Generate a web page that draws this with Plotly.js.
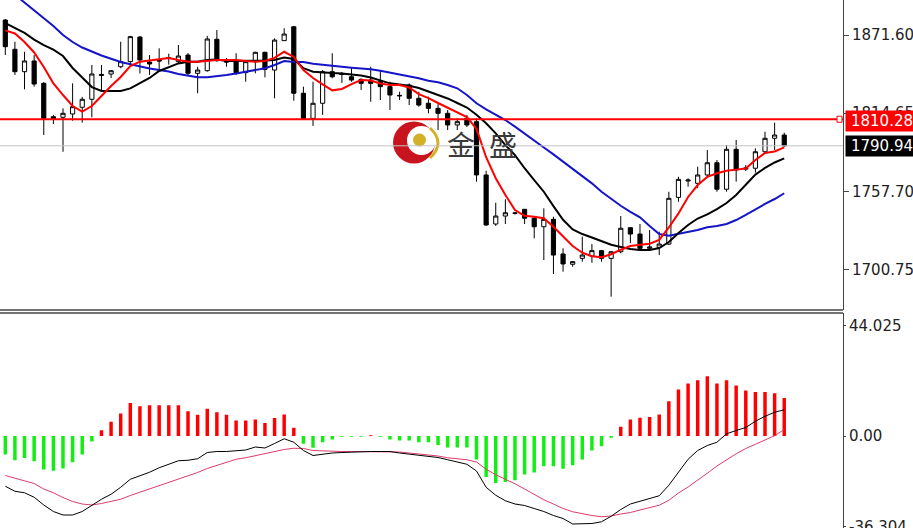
<!DOCTYPE html>
<html>
<head>
<meta charset="utf-8">
<script src="https://cdn.plot.ly/plotly-3.0.1.min.js"></script>
<style>html,body{margin:0;padding:0;background:#fff;}#chart{width:913px;height:528px;}</style>
</head>
<body>
<div id="chart"></div>
<script>
// ---- candle data (82 bars) ----
var openP = [1882.5,1861.2,1844.9,1852.7,1836.4,1812.1,1811.7,1814.1,1819.0,1824.8,
1842.1,1843.2,1848.5,1852.2,1870.1,1851.9,1853.4,1854.5,1852.2,1857.0,
1843.7,1845.6,1868.5,1852.7,1852.2,1844.2,1852.2,1859.0,1846.1,1867.5,
1877.6,1829.2,1810.9,1821.9,1844.9,1843.6,1841.2,1839.3,1838.8,1837.6,
1834.0,1827.2,1835.2,1825.5,1821.9,1818.2,1814.6,1806.1,1810.9,1808.5,
1769.7,1734.0,1739.8,1741.8,1744.7,1738.2,1732.0,1737.4,1712.2,1704.7,
1709.0,1710.7,1714.6,1709.0,1713.8,1731.3,1726.7,1716.3,1717.0,1719.4,
1753.4,1765.3,1763.6,1769.7,1778.6,1759.3,1788.4,1774.0,1774.6,1786.6,
1796.4,1798.8];
var highP = [1883.2,1866.7,1859.4,1857.0,1837.4,1813.4,1818.2,1836.4,1826.5,1849.8,
1849.8,1846.1,1866.7,1871.0,1870.9,1857.0,1861.9,1858.0,1864.3,1858.5,
1848.5,1870.9,1875.2,1854.9,1858.3,1853.4,1859.4,1859.4,1869.2,1876.5,
1878.2,1834.0,1837.6,1846.1,1858.3,1844.7,1847.4,1840.1,1848.5,1846.1,
1837.6,1830.3,1836.4,1830.3,1826.7,1821.9,1817.0,1811.0,1813.4,1810.9,
1772.8,1749.5,1752.0,1742.7,1744.9,1739.3,1745.4,1739.3,1716.3,1707.1,
1724.8,1719.4,1715.1,1714.3,1739.8,1731.8,1734.0,1729.6,1728.4,1757.5,
1768.4,1767.3,1775.7,1787.9,1780.6,1791.5,1795.2,1776.9,1789.1,1801.2,
1807.8,1800.5];
var lowP = [1857.0,1842.5,1832.1,1834.0,1798.8,1806.8,1786.6,1809.2,1807.8,1811.7,
1831.1,1840.3,1847.4,1849.8,1843.6,1842.5,1846.1,1850.0,1851.0,1842.5,
1829.2,1844.9,1852.2,1848.5,1842.5,1837.6,1843.7,1840.8,1825.5,1867.5,
1823.8,1809.7,1805.4,1813.4,1840.1,1836.7,1837.6,1831.6,1823.0,1824.3,
1817.0,1824.3,1820.6,1819.4,1814.6,1802.4,1802.4,1802.4,1804.6,1764.8,
1732.6,1732.6,1734.0,1740.9,1734.0,1723.6,1707.8,1697.6,1699.3,1702.9,
1706.6,1705.8,1706.6,1681.1,1712.7,1720.0,1715.1,1715.1,1711.4,1718.7,
1750.2,1761.2,1760.0,1768.0,1757.5,1757.5,1764.8,1772.6,1771.4,1785.5,
1787.9,1790.2];
var closeP = [1863.1,1844.9,1852.7,1835.9,1810.9,1810.5,1814.6,1819.4,1824.8,1843.2,
1842.9,1845.6,1852.2,1870.4,1853.4,1850.5,1852.7,1855.0,1856.3,1843.7,
1846.1,1868.7,1852.9,1851.9,1844.2,1852.2,1859.0,1846.6,1867.9,1872.3,
1829.2,1810.9,1821.9,1844.9,1841.2,1842.9,1838.8,1836.4,1836.4,1834.0,
1827.9,1827.6,1825.5,1820.6,1818.2,1814.6,1806.1,1808.5,1806.1,1769.7,
1733.3,1739.8,1742.2,1742.0,1738.2,1732.0,1737.4,1711.4,1704.9,1706.6,
1711.4,1714.6,1709.0,1713.8,1730.9,1726.7,1716.3,1717.3,1719.4,1752.7,
1766.5,1766.0,1769.7,1778.6,1759.3,1788.4,1773.3,1774.8,1786.6,1796.4,
1798.8,1790.94];

// ---- moving averages ----
var maFast = [1875.0,1872.7,1866.5,1858.9,1848.3,1836.4,1827.9,1819.9,1815.9,1819.9,
1827.2,1834.5,1841.0,1849.0,1852.2,1853.0,1854.1,1854.9,1853.4,1852.2,
1852.2,1853.0,1853.4,1853.4,1853.4,1852.7,1852.2,1852.7,1854.9,1859.4,
1855.6,1846.1,1840.3,1835.6,1831.3,1832.3,1835.9,1838.8,1838.5,1836.3,
1835.2,1835.2,1833.4,1828.6,1825.7,1822.1,1818.8,1815.5,1811.9,1803.3,
1782.6,1767.3,1755.1,1744.2,1740.0,1739.3,1738.2,1732.0,1725.0,1718.0,
1713.1,1710.5,1709.8,1712.0,1715.3,1718.0,1718.9,1719.7,1722.4,1731.5,
1741.7,1753.7,1762.4,1768.3,1770.9,1772.8,1773.6,1774.4,1780.6,1785.7,
1786.8,1789.8];
var maMid = [1880.3,1876.7,1873.1,1868.3,1864.3,1861.0,1856.3,1847.6,1841.0,1833.7,
1830.8,1830.8,1830.8,1832.7,1836.3,1840.3,1845.4,1848.3,1850.9,1852.2,
1852.2,1853.4,1853.8,1852.7,1852.7,1852.7,1852.7,1853.0,1853.4,1855.2,
1854.1,1847.4,1844.9,1844.2,1843.9,1843.6,1842.9,1842.1,1840.7,1838.5,
1836.4,1835.6,1834.7,1833.0,1830.5,1828.3,1825.4,1822.1,1818.8,1813.5,
1807.3,1800.0,1791.5,1784.2,1774.6,1766.0,1757.5,1747.0,1737.1,1730.0,
1726.7,1724.2,1721.3,1718.9,1717.3,1715.8,1715.1,1715.1,1716.5,1720.9,
1727.5,1733.3,1738.0,1741.0,1744.9,1749.3,1755.1,1762.4,1770.0,1774.8,
1778.8,1781.8];
var maSlow = [1906.6,1900.9,1895.4,1889.9,1884.4,1878.1,1871.6,1866.5,1862.5,1859.5,
1856.7,1854.3,1852.0,1850.3,1848.5,1847.2,1846.1,1845.0,1843.2,1841.8,
1840.8,1840.8,1841.5,1842.5,1843.6,1844.7,1846.1,1847.4,1849.8,1852.7,
1851.9,1851.9,1850.7,1849.8,1849.0,1848.5,1847.8,1847.4,1846.6,1845.6,
1844.2,1843.2,1841.8,1840.1,1838.3,1837.2,1835.2,1832.8,1827.9,1821.9,
1817.5,1813.9,1809.7,1804.9,1800.0,1795.2,1789.7,1784.7,1779.4,1774.0,
1768.9,1763.6,1757.5,1752.2,1747.3,1742.9,1738.9,1732.5,1726.7,1725.5,
1726.7,1728.2,1729.6,1731.6,1732.5,1734.0,1736.9,1740.6,1744.7,1748.6,
1752.2,1756.4];

// ---- MACD pane ----
var macdHist = [-7.4,-9.7,-8.8,-10.1,-13.4,-13.9,-13.0,-10.5,-7.4,-2.2,
2.3,5.7,9.0,13.2,11.9,12.3,12.3,12.3,12.3,9.9,
8.5,10.9,9.5,8.5,6.2,6.2,6.6,5.2,7.2,8.6,
3.3,-3.1,-4.7,-2.5,-1.4,-0.3,-0.3,-0.3,0.3,-0.3,
-1.4,-1.8,-1.8,-2.5,-2.5,-3.6,-4.6,-4.6,-4.6,-9.4,
-16.4,-18.8,-18.4,-17.7,-15.4,-14.6,-12.1,-12.1,-13.1,-11.7,
-9.4,-5.8,-4.1,-0.7,3.7,6.6,7.3,7.6,8.6,13.9,
18.6,21.0,22.3,23.9,21.0,22.3,20.2,18.2,17.6,17.6,
17.1,15.2];
var macdMain = [-20.1,-22.1,-22.7,-24.5,-27.6,-30.2,-31.6,-31.6,-30.2,-27.6,
-25.3,-23.3,-20.5,-17.3,-15.9,-14.5,-12.7,-11.3,-9.9,-9.7,
-9.1,-6.6,-6.2,-6.2,-6.0,-5.6,-4.4,-4.8,-3.0,-1.1,
-2.5,-5.8,-7.8,-7.2,-6.8,-6.6,-6.4,-6.3,-6.2,-6.2,
-6.2,-6.8,-7.2,-7.8,-8.2,-8.6,-9.5,-10.3,-11.3,-14.0,
-20.5,-23.7,-25.9,-27.2,-27.8,-29.0,-30.2,-31.8,-33.0,-35.2,
-35.2,-35.0,-34.3,-32.1,-29.4,-27.2,-26.1,-25.0,-23.9,-19.7,
-14.5,-9.3,-5.8,-3.8,-2.5,0.9,2.2,3.4,5.9,7.9,
9.5,10.5];
var macdSignal = [-15.8,-16.9,-18.0,-19.0,-21.2,-22.7,-24.6,-26.2,-27.2,-27.6,
-27.0,-26.2,-25.3,-23.8,-22.5,-21.0,-19.6,-18.4,-17.0,-16.0,
-14.6,-13.0,-11.7,-10.4,-9.3,-8.7,-7.8,-7.1,-6.2,-5.4,
-4.9,-5.0,-5.8,-6.0,-6.0,-6.2,-6.2,-6.2,-6.2,-6.3,
-6.4,-6.4,-6.8,-7.1,-7.6,-8.0,-8.7,-9.1,-9.5,-10.4,
-13.3,-15.5,-17.2,-19.1,-21.2,-23.4,-25.5,-27.2,-29.0,-30.3,
-31.2,-31.8,-32.3,-32.0,-31.2,-30.6,-29.6,-28.7,-27.7,-25.7,
-22.8,-20.4,-17.8,-14.9,-12.0,-9.4,-7.1,-5.0,-3.3,-1.5,
0.1,2.6];

// ---- axis labels / levels ----
var priceTicks = [1871.60, 1814.65, 1757.70, 1700.75];
var priceTickText = ['1871.60', '1814.65', '1757.70', '1700.75'];
var macdTicks = [44.025, 0, -36.304];
var macdTickText = ['44.025', '0.00', '-36.304'];
var levelPrice = 1810.28;
var levelText = '1810.28';
var bidPrice = 1790.94;
var bidText = '1790.94';
var brandText = ['金', '盛'];

var idx = openP.map(function(_, i){ return i; });
var histColors = macdHist.map(function(v){ return v >= 0 ? '#ff0000' : '#11ee11'; });

var W = 913, H = 528, PW = 843;
function px(x){ return x / PW; }
function py(y){ return (H - y) / H; }

var tickFont = {family: 'DejaVu Sans', size: 15, color: '#222'};

var traces = [
  {type: 'candlestick', x: idx, open: openP, high: highP, low: lowP, close: closeP,
   xaxis: 'x', yaxis: 'y', whiskerwidth: 0,
   increasing: {line: {color: '#000', width: 1}, fillcolor: '#ffffff'},
   decreasing: {line: {color: '#000', width: 1}, fillcolor: '#000000'},
   hoverinfo: 'skip'},
  {type: 'scatter', mode: 'lines', x: idx, y: maSlow, xaxis: 'x', yaxis: 'y',
   line: {color: '#1414c8', width: 2}, hoverinfo: 'skip'},
  {type: 'scatter', mode: 'lines', x: idx, y: maMid, xaxis: 'x', yaxis: 'y',
   line: {color: '#000000', width: 2}, hoverinfo: 'skip'},
  {type: 'scatter', mode: 'lines', x: idx, y: maFast, xaxis: 'x', yaxis: 'y',
   line: {color: '#ff0000', width: 2}, hoverinfo: 'skip'},
  {type: 'bar', x: idx, y: macdHist, xaxis: 'x2', yaxis: 'y2', width: 0.36,
   marker: {color: histColors, line: {width: 0}}, hoverinfo: 'skip'},
  {type: 'scatter', mode: 'lines', x: idx, y: macdSignal, xaxis: 'x2', yaxis: 'y2',
   line: {color: '#dc3c6a', width: 1}, hoverinfo: 'skip'},
  {type: 'scatter', mode: 'lines', x: idx, y: macdMain, xaxis: 'x2', yaxis: 'y2',
   line: {color: '#000000', width: 1}, hoverinfo: 'skip'}
];

var xRange = [-0.551, 87.11];
var layout = {
  width: W, height: H,
  margin: {l: 0, r: W - PW, t: 0, b: 0, pad: 0},
  paper_bgcolor: '#ffffff', plot_bgcolor: '#ffffff',
  showlegend: false, hovermode: false, boxgap: 0.38,
  xaxis: {domain: [0, 1], range: xRange, anchor: 'y', showticklabels: false, ticks: '',
          showgrid: false, zeroline: false, showline: false, rangeslider: {visible: false}, fixedrange: true},
  xaxis2: {domain: [0, 1], range: xRange, anchor: 'y2', showticklabels: false, ticks: '',
           showgrid: false, zeroline: false, showline: false, fixedrange: true},
  yaxis: {domain: [py(310), 1], range: [1671.4, 1897.08], side: 'right',
          tickmode: 'array', tickvals: priceTicks, ticktext: priceTickText,
          ticks: 'outside', ticklen: 5, tickcolor: '#444', tickwidth: 1,
          showline: true, linecolor: '#444', linewidth: 1,
          showgrid: false, zeroline: false, tickfont: tickFont, fixedrange: true},
  yaxis2: {domain: [0, py(313)], range: [-36.8, 49.2], side: 'right',
           tickmode: 'array', tickvals: macdTicks, ticktext: macdTickText,
           ticks: 'outside', ticklen: 2, tickcolor: '#444', tickwidth: 1,
           ticklabeloverflow: 'allow',
           showline: true, linecolor: '#444', linewidth: 1,
           showgrid: false, zeroline: false, tickfont: tickFont, fixedrange: true},
  shapes: [
    // logo (below traces)
    {type: 'circle', xref: 'paper', yref: 'paper', layer: 'below',
     x0: px(393), x1: px(435), y0: py(163.5), y1: py(121.5),
     fillcolor: '#c8141e', line: {width: 0}},
    {type: 'circle', xref: 'paper', yref: 'paper', layer: 'below',
     x0: px(407), x1: px(436), y0: py(155), y1: py(126),
     fillcolor: '#ffffff', line: {width: 0}},
    {type: 'circle', xref: 'paper', yref: 'paper', layer: 'below',
     x0: px(413), x1: px(426), y0: py(146.5), y1: py(133.5),
     fillcolor: '#d2b128', line: {width: 0}},
    {type: 'path', xref: 'paper', yref: 'paper', layer: 'below',
     path: 'M ' + px(430) + ',' + py(128) + ' Q ' + px(446) + ',' + py(143) + ' ' + px(430) + ',' + py(158),
     line: {color: '#d2b128', width: 3}},
    // bid line
    {type: 'line', xref: 'paper', yref: 'y', x0: 0, x1: 1, y0: bidPrice, y1: bidPrice,
     line: {color: '#c4c4c4', width: 1}},
    // level line
    {type: 'line', xref: 'paper', yref: 'y', x0: 0, x1: 1, y0: levelPrice, y1: levelPrice,
     line: {color: '#ff0000', width: 2}},
    {type: 'rect', xref: 'paper', yref: 'y', xsizemode: 'pixel', ysizemode: 'pixel',
     xanchor: 1, yanchor: levelPrice, x0: -6, x1: -1, y0: -3, y1: 3,
     fillcolor: '#ffffff', line: {color: '#ff0000', width: 1}},
    // pane separators
    {type: 'line', xref: 'paper', yref: 'paper', x0: 0, x1: 1, y0: py(310), y1: py(310),
     line: {color: '#444', width: 1.5}},
    {type: 'line', xref: 'paper', yref: 'paper', x0: 0, x1: 1, y0: py(313), y1: py(313),
     line: {color: '#444', width: 1.5}}
  ],
  annotations: [
    {xref: 'paper', yref: 'paper', x: px(461), y: py(144), text: brandText[0], showarrow: false,
     font: {family: 'Noto Sans CJK SC', size: 28, color: '#3a3a3a'}, xanchor: 'center', yanchor: 'middle'},
    {xref: 'paper', yref: 'paper', x: px(503), y: py(144), text: brandText[1], showarrow: false,
     font: {family: 'Noto Sans CJK SC', size: 28, color: '#3a3a3a'}, xanchor: 'center', yanchor: 'middle'},
    {xref: 'paper', yref: 'y', x: px(845), y: levelPrice, yshift: -2, text: levelText, showarrow: false,
     xanchor: 'left', yanchor: 'middle', align: 'right', width: 66, borderpad: 1,
     bgcolor: '#ff0000', font: {family: 'DejaVu Sans', size: 15, color: '#ffffff'}},
    {xref: 'paper', yref: 'y', x: px(845), y: bidPrice, text: bidText, showarrow: false,
     xanchor: 'left', yanchor: 'middle', align: 'right', width: 66, borderpad: 1,
     bgcolor: '#000000', font: {family: 'DejaVu Sans', size: 15, color: '#ffffff'}}
  ]
};

Plotly.newPlot('chart', traces, layout, {staticPlot: true, displayModeBar: false});
</script>
</body>
</html>
